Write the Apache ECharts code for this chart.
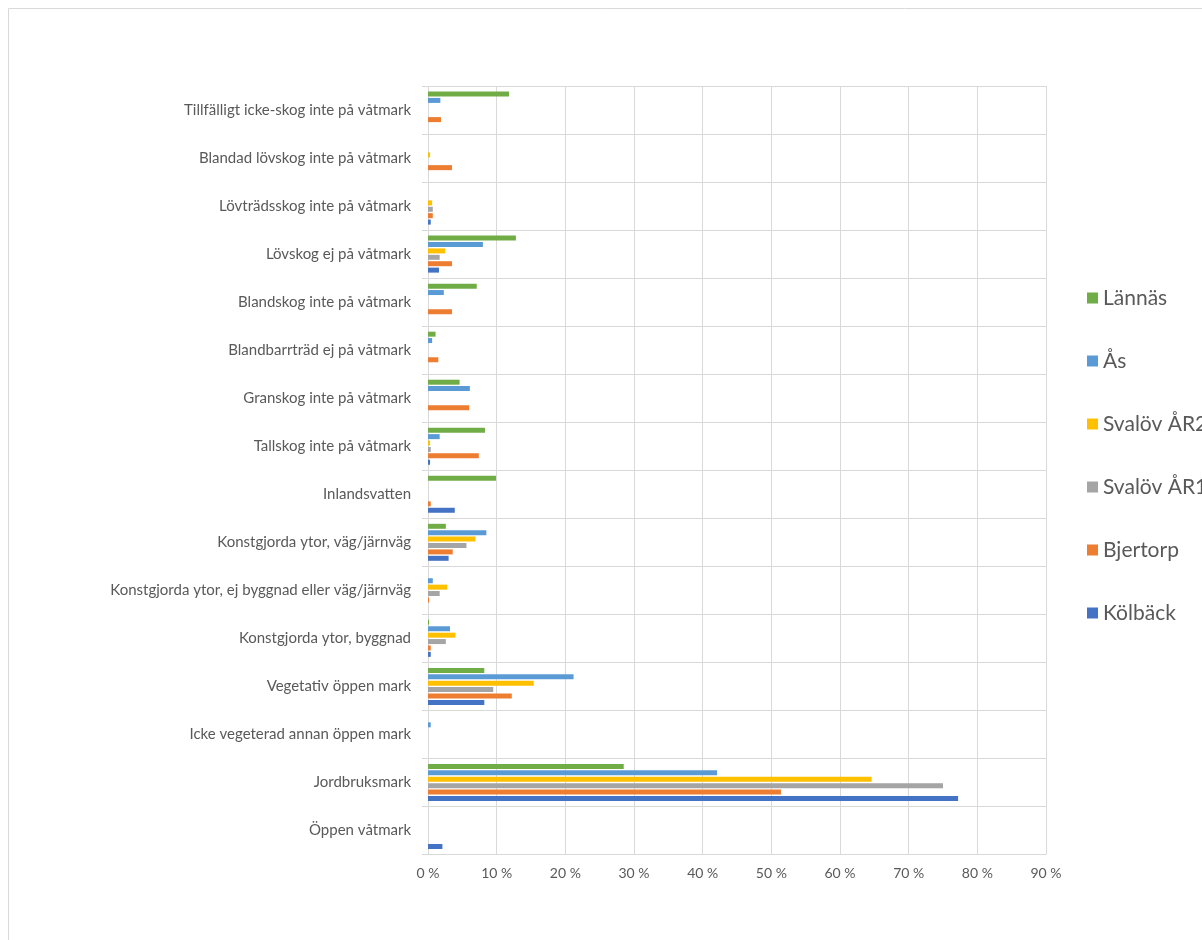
<!DOCTYPE html>
<html>
<head>
<meta charset="utf-8">
<script src="https://cdn.jsdelivr.net/npm/echarts@6/dist/echarts.min.js"></script>
<style>
  html, body { margin: 0; padding: 0; background: #fff; }
  #chart { width: 1202px; height: 940px; }
</style>
</head>
<body>
<div id="chart"></div>
<script>
"use strict";
// kategorier, uppifrån och ned
var categories = [
    'Tillfälligt icke-skog inte på våtmark',
    'Blandad lövskog inte på våtmark',
    'Lövträdsskog inte på våtmark',
    'Lövskog ej på våtmark',
    'Blandskog inte på våtmark',
    'Blandbarrträd ej på våtmark',
    'Granskog inte på våtmark',
    'Tallskog inte på våtmark',
    'Inlandsvatten',
    'Konstgjorda ytor, väg/järnväg',
    'Konstgjorda ytor, ej byggnad eller väg/järnväg',
    'Konstgjorda ytor, byggnad',
    'Vegetativ öppen mark',
    'Icke vegeterad annan öppen mark',
    'Jordbruksmark',
    'Öppen våtmark'
];

// andel i procent
var lannas    = [11.8, 0, 0, 12.8, 7.1, 1.1, 4.6, 8.3, 9.9, 2.6, 0, 0.15, 8.2, 0, 28.5, 0];
var aas       = [1.8, 0, 0, 8.0, 2.3, 0.6, 6.1, 1.7, 0, 8.5, 0.7, 3.2, 21.2, 0.4, 42.1, 0];
var svalovAr2 = [0, 0.3, 0.6, 2.5, 0, 0, 0, 0.3, 0, 6.9, 2.8, 4.0, 15.4, 0, 64.6, 0];
var svalovAr1 = [0, 0, 0.7, 1.7, 0, 0, 0, 0.4, 0, 5.6, 1.7, 2.6, 9.5, 0, 75.0, 0];
var bjertorp  = [1.9, 3.5, 0.7, 3.5, 3.5, 1.5, 6.0, 7.4, 0.4, 3.6, 0.15, 0.4, 12.2, 0, 51.4, 0];
var kolback   = [0, 0, 0.4, 1.6, 0, 0, 0, 0.3, 3.9, 3.0, 0, 0.4, 8.2, 0, 77.2, 2.1];

var seriesNames = ['Lännäs', 'Ås', 'Svalöv ÅR2', 'Svalöv ÅR1', 'Bjertorp', 'Kölbäck'];
var seriesData = [lannas, aas, svalovAr2, svalovAr1, bjertorp, kolback];
var colors = ['#70AD47', '#5B9BD5', '#FFC000', '#A5A5A5', '#ED7D31', '#4472C4'];

var font = 'Lato, "Liberation Sans", sans-serif';
var textColor = '#595959';
var gridColor = '#d9d9d9';

function initGraph() {
    var myChart = echarts.init(document.getElementById('chart'), null, { renderer: 'canvas' });
    var option = {
        animation: false,
        color: colors,
        textStyle: { fontFamily: font },
        grid: { left: 428, right: 156, top: 86, bottom: 85.5, containLabel: false },
        graphic: [{
            type: 'rect',
            shape: { x: 8.5, y: 8.5, width: 1300, height: 1100 },
            style: { fill: null, stroke: gridColor, lineWidth: 1 },
            silent: true
        }],
        legend: {
            orient: 'vertical',
            left: 1082,
            top: 281,
            itemWidth: 11,
            itemHeight: 11,
            itemGap: 39,
            icon: 'rect',
            data: seriesNames,
            textStyle: { fontSize: 21, color: textColor, fontFamily: font, lineHeight: 24 }
        },
        xAxis: {
            type: 'value',
            min: 0,
            max: 90,
            interval: 10,
            axisLine: { show: false },
            axisTick: { show: false },
            axisLabel: { formatter: '{value} %', fontSize: 14, color: textColor, margin: 12 },
            splitLine: { show: true, lineStyle: { color: gridColor, width: 1 } }
        },
        yAxis: {
            type: 'category',
            inverse: true,
            data: categories,
            axisLine: { show: false },
            axisTick: { show: true, length: 6, lineStyle: { color: gridColor } },
            axisLabel: { fontSize: 15, color: textColor, margin: 17 },
            splitLine: { show: true, lineStyle: { color: gridColor, width: 1 } }
        },
        series: seriesNames.map(function (name, i) {
            return {
                name: name,
                type: 'bar',
                data: seriesData[i],
                barWidth: 5,
                barGap: '28%'
            };
        })
    };
    myChart.setOption(option);
    return myChart;
}

var myChart = initGraph();
window.onresize = function () {
    myChart.resize();
};
</script>
</body>
</html>
